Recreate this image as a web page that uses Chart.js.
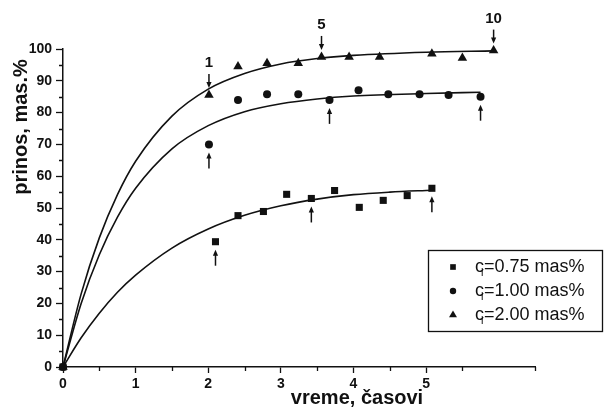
<!DOCTYPE html>
<html>
<head>
<meta charset="utf-8">
<script src="https://cdn.jsdelivr.net/npm/chart.js@4.4.0/dist/chart.umd.min.js"></script>
<style>
  html, body { margin: 0; padding: 0; background: #fff; }
  #grafik { display: block; }
</style>
</head>
<body>
<canvas id="grafik" width="607" height="408"></canvas>
<script>
// izmereni prinos (mas.%) u zavisnosti od vremena (casovi), ocitano sa slike
const vremeC075 = [0, 2.10, 2.41, 2.76, 3.08, 3.42, 3.74, 4.08, 4.41, 4.74, 5.08];
const prinosC075 = [0, 39.4, 47.6, 48.9, 54.3, 53.0, 55.5, 50.2, 52.4, 53.9, 56.2];
const vremeC100 = [0, 2.01, 2.41, 2.81, 3.24, 3.67, 4.07, 4.48, 4.91, 5.31, 5.75];
const prinosC100 = [0, 70.0, 84.0, 85.8, 85.8, 84.0, 87.0, 85.8, 85.8, 85.5, 85.0];
const vremeC200 = [0, 2.01, 2.41, 2.81, 3.24, 3.56, 3.94, 4.36, 5.08, 5.50, 5.93];
const prinosC200 = [0, 85.5, 94.5, 95.5, 95.5, 97.5, 97.5, 97.5, 98.5, 97.2, 99.5];

// fitovane krive, tacke ocitane sa slike
const vremeKriva075 = [0, 0.25, 0.5, 0.75, 1, 1.5, 2, 2.5, 3, 3.5, 4, 4.5, 5.08];
const prinosKriva075 = [0, 9.2, 16.9, 23.5, 28.9, 37.4, 43.4, 47.7, 50.7, 52.8, 54.2, 55.0, 55.6];
const vremeKriva100 = [0, 0.25, 0.5, 0.75, 1, 1.5, 2, 2.5, 3, 3.5, 4, 5, 5.75];
const prinosKriva100 = [0, 20.0, 35.3, 47.1, 56.2, 68.6, 75.9, 80.3, 82.8, 84.3, 85.2, 86.0, 86.4];
const vremeKriva200 = [0, 0.25, 0.5, 0.75, 1, 1.5, 2, 2.5, 3, 3.5, 4, 5, 5.93];
const prinosKriva200 = [0, 23.0, 40.6, 54.2, 64.7, 78.9, 87.4, 92.3, 95.3, 97.0, 98.0, 99.0, 99.4];

// legenda i oznake na slici
const koncentracije = ['0.75', '1.00', '2.00'];
const oblici = ['rect', 'circle', 'triangle'];
const naslovX = 'vreme, časovi';
const naslovY = 'prinos, mas.%';

// strelice: serija (0,1,2), indeks tacke, smer, tekst
const strelice = [
  { serija: 2, indeks: 1, smer: 'dole', tekst: '1' },
  { serija: 2, indeks: 5, smer: 'dole', tekst: '5' },
  { serija: 2, indeks: 10, smer: 'dole', tekst: '10' },
  { serija: 1, indeks: 1, smer: 'gore' },
  { serija: 1, indeks: 5, smer: 'gore' },
  { serija: 1, indeks: 10, smer: 'gore' },
  { serija: 0, indeks: 1, smer: 'gore' },
  { serija: 0, indeks: 5, smer: 'gore' },
  { serija: 0, indeks: 10, smer: 'gore' },
];

const serije = [
  { vreme: vremeC075, prinos: prinosC075 },
  { vreme: vremeC100, prinos: prinosC100 },
  { vreme: vremeC200, prinos: prinosC200 },
];

function tacke(xs, ys) {
  return xs.map((t, i) => ({ x: t, y: ys[i] }));
}

const CRNA = '#111';
const FONT = 'Liberation Sans, Arial, sans-serif';

function strelica(ctx, x1, y1, x2, y2) {
  // linija od (x1,y1) do vrha (x2,y2)
  const ugao = Math.atan2(y2 - y1, x2 - x1);
  ctx.beginPath();
  ctx.moveTo(x1, y1);
  ctx.lineTo(x2 - Math.cos(ugao) * 3, y2 - Math.sin(ugao) * 3);
  ctx.stroke();
  ctx.beginPath();
  ctx.moveTo(x2, y2);
  ctx.lineTo(x2 - Math.cos(ugao) * 6 + Math.sin(ugao) * 2.6, y2 - Math.sin(ugao) * 6 - Math.cos(ugao) * 2.6);
  ctx.lineTo(x2 - Math.cos(ugao) * 6 - Math.sin(ugao) * 2.6, y2 - Math.sin(ugao) * 6 + Math.cos(ugao) * 2.6);
  ctx.closePath();
  ctx.fill();
}

const dodaci = {
  id: 'dodaci',
  afterDraw(chart) {
    const ctx = chart.ctx;
    const sx = chart.scales.x;
    const sy = chart.scales.y;
    const area = chart.chartArea;
    ctx.save();
    ctx.strokeStyle = CRNA;
    ctx.fillStyle = CRNA;
    ctx.lineWidth = 1.3;

    // sitni podeoci
    ctx.beginPath();
    for (let v = 5; v < 100; v += 10) {
      const p = Math.round(sy.getPixelForValue(v)) + 0.5;
      ctx.moveTo(area.left - 4, p);
      ctx.lineTo(area.left, p);
    }
    for (let v = 0.5; v <= 6.5; v += 1) {
      const p = Math.round(sx.getPixelForValue(v)) + 0.5;
      ctx.moveTo(p, area.bottom);
      ctx.lineTo(p, area.bottom + 4);
    }
    ctx.stroke();

    // strelice
    ctx.lineWidth = 1.5;
    ctx.font = 'bold 15px ' + FONT;
    ctx.textAlign = 'center';
    ctx.textBaseline = 'middle';
    strelice.forEach(s => {
      const ser = serije[s.serija];
      const px = sx.getPixelForValue(ser.vreme[s.indeks]);
      const py = sy.getPixelForValue(ser.prinos[s.indeks]);
      if (s.smer === 'dole') {
        strelica(ctx, px, py - 21, px, py - 7);
        ctx.fillText(s.tekst, px, py - 32);
      } else {
        strelica(ctx, px, py + 24, px, py + 8);
      }
    });

    // naslovi osa
    ctx.font = 'bold 20px ' + FONT;
    ctx.fillText(naslovX, 357, 398);
    ctx.save();
    ctx.translate(21, 127);
    ctx.rotate(-Math.PI / 2);
    ctx.fillText(naslovY, 0, 0);
    ctx.restore();

    // legenda
    ctx.lineWidth = 1.3;
    ctx.strokeRect(428.5, 250.5, 174, 81);
    const radijusi = [4, 3.2, 4.6];
    koncentracije.forEach((k, i) => {
      const yy = 267 + i * 24;
      Chart.helpers.drawPoint(ctx, { pointStyle: oblici[i], radius: radijusi[i], rotation: 0, borderWidth: 0 }, 453, yy);
      ctx.textAlign = 'left';
      ctx.font = '18px ' + FONT;
      const x0 = 475;
      ctx.fillText('c', x0, yy);
      const wc = ctx.measureText('c').width;
      ctx.font = '11px ' + FONT;
      ctx.fillText('i', x0 + wc - 3, yy + 6);
      ctx.font = '18px ' + FONT;
      ctx.fillText('=' + k + ' mas%', x0 + wc, yy);
    });
    ctx.restore();
  }
};

const skupovi = [
  { data: tacke(vremeKriva075, prinosKriva075), showLine: true, pointRadius: 0, borderColor: CRNA, borderWidth: 1.6, cubicInterpolationMode: 'monotone' },
  { data: tacke(vremeKriva100, prinosKriva100), showLine: true, pointRadius: 0, borderColor: CRNA, borderWidth: 1.6, cubicInterpolationMode: 'monotone' },
  { data: tacke(vremeKriva200, prinosKriva200), showLine: true, pointRadius: 0, borderColor: CRNA, borderWidth: 1.6, cubicInterpolationMode: 'monotone' },
  { data: tacke(vremeC075, prinosC075), pointStyle: 'rect', pointRadius: 5, backgroundColor: CRNA, borderColor: CRNA, borderWidth: 0, clip: false },
  { data: tacke(vremeC100, prinosC100), pointStyle: 'circle', pointRadius: 4, backgroundColor: CRNA, borderColor: CRNA, borderWidth: 0, clip: false },
  { data: tacke(vremeC200, prinosC200), pointStyle: 'triangle', pointRadius: 5.5, backgroundColor: CRNA, borderColor: CRNA, borderWidth: 0, clip: false },
];

new Chart(document.getElementById('grafik'), {
  type: 'scatter',
  data: { datasets: skupovi },
  plugins: [dodaci],
  options: {
    responsive: false,
    animation: false,
    layout: { padding: { left: 0, top: 49, right: 72, bottom: 0 } },
    plugins: { legend: { display: false }, tooltip: { enabled: false } },
    scales: {
      x: {
        type: 'linear',
        min: 0,
        max: 6.5,
        afterFit: s => { s.height = 41; },
        afterBuildTicks: s => { s.ticks = s.ticks.filter(t => Number.isInteger(t.value)); },
        ticks: { stepSize: 1, color: CRNA, padding: 3, font: { family: FONT, size: 14, weight: 'bold' } },
        grid: { drawOnChartArea: false, drawTicks: true, tickLength: 6, color: CRNA, tickWidth: 1.3 },
        border: { display: true, color: CRNA, width: 1.5 }
      },
      y: {
        min: 0,
        max: 100,
        afterFit: s => { s.width = 63; },
        ticks: { stepSize: 10, color: CRNA, padding: 4, font: { family: FONT, size: 14, weight: 'bold' } },
        grid: { drawOnChartArea: false, drawTicks: true, tickLength: 7, color: CRNA, tickWidth: 1.3 },
        border: { display: true, color: CRNA, width: 1.5 }
      }
    }
  }
});
</script>
</body>
</html>
